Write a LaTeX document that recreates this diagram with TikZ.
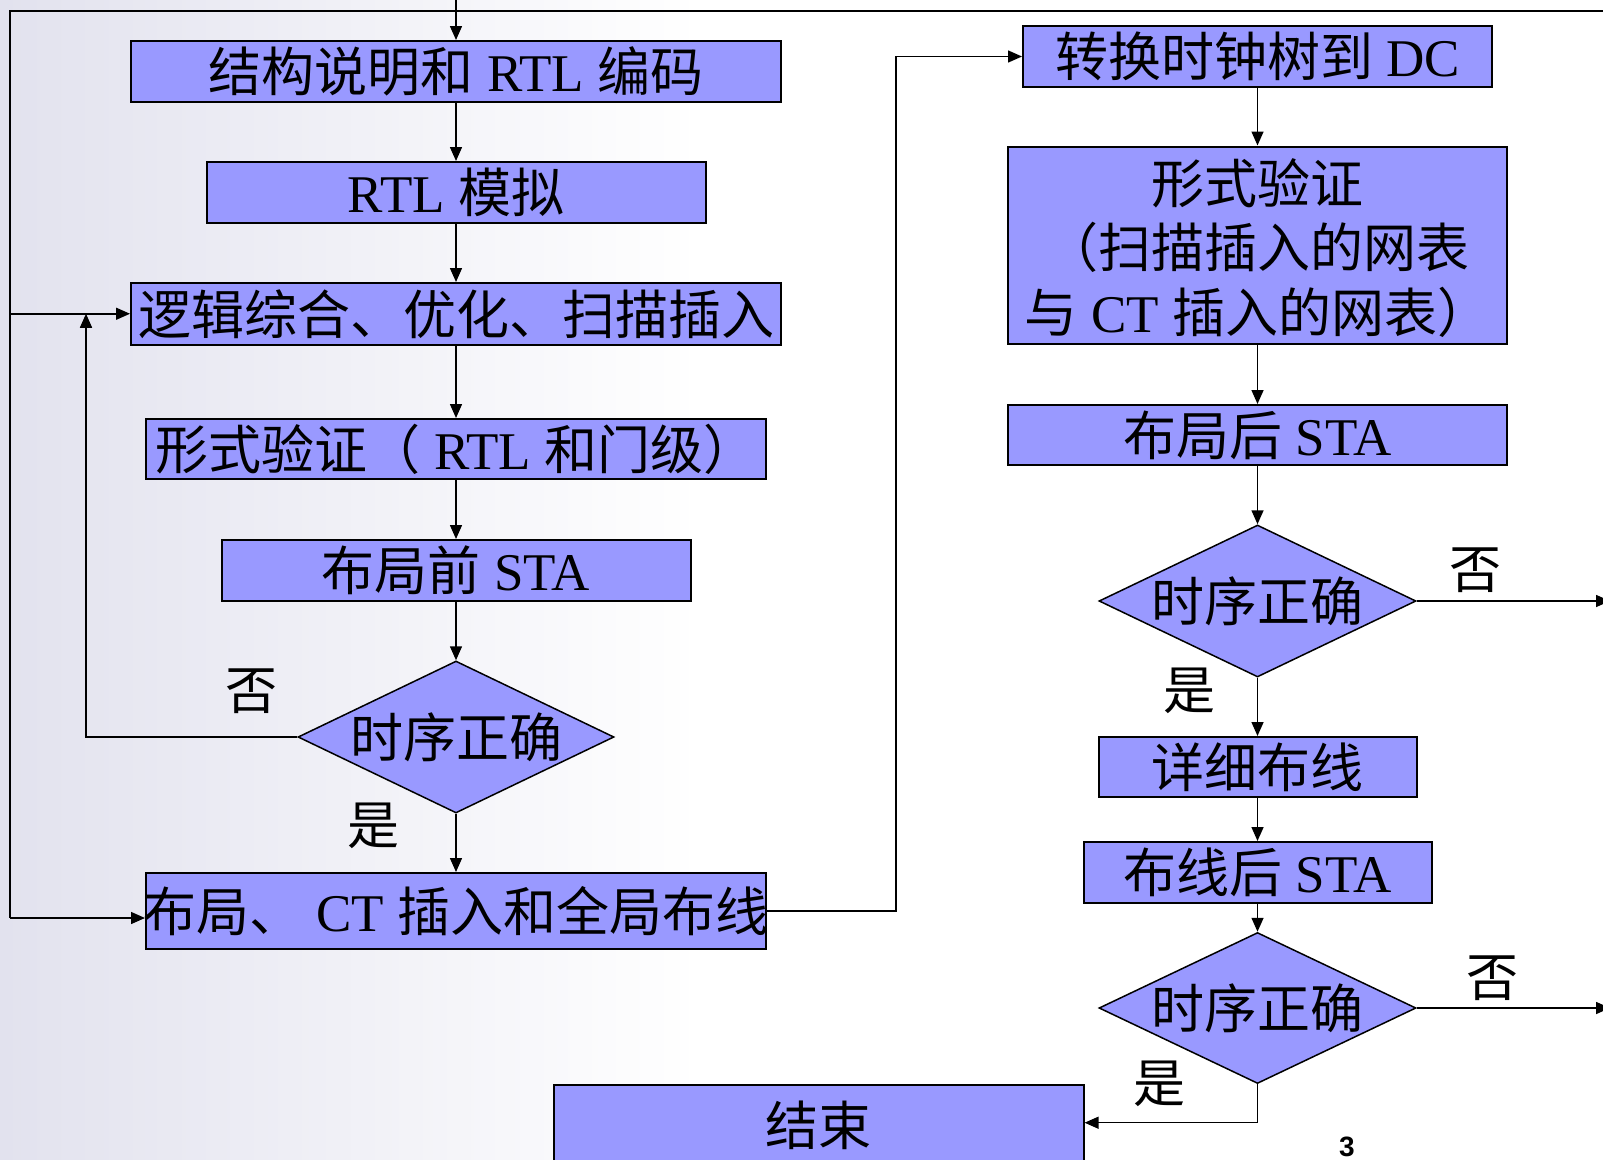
\documentclass[tikz,border=0pt]{standalone}
\usepackage{fontspec}
\setmainfont{Liberation Serif}
\newfontfamily\cjk{Noto Sans CJK SC}
\newfontfamily\pgfont{Liberation Sans}
\usetikzlibrary{arrows.meta,shapes.geometric}
\definecolor{boxfill}{RGB}{153,153,255}
\definecolor{bgleft}{RGB}{226,226,238}
\tikzset{
  stepbox/.style={draw=black, line width=2pt, fill=boxfill, rectangle, inner sep=0pt,
    font=\fontsize{53}{64}\selectfont},
  decision/.style={draw=black, line width=1.5pt, fill=boxfill, diamond, inner sep=0pt,
    font=\cjk\fontsize{53}{64}\selectfont},
  conn/.style={line width=1.5pt, draw=black},
  arr/.style={conn, -{Triangle[length=14pt,width=12pt]}},
  lbl/.style={font=\cjk\fontsize{52}{60}\selectfont, inner sep=0pt},
}
\newcommand{\zh}[1]{{\cjk #1}}
\newcommand{\nb}[1]{\makebox[0pt][c]{#1}}
\begin{document}
\begin{tikzpicture}[x=1pt,y=-1pt]
\useasboundingbox (0,0) rectangle (1603,1159);
\clip (0,0) rectangle (1603,1159);
\fill[white] (0,0) rectangle (1603,1159);
\shade[left color=bgleft, right color=white] (0,0) rectangle (700,1159);

% left column
\node[stepbox, minimum width=650pt, minimum height=61pt] (b1) at (456,71.5) {\nb{\zh{结构说明和} RTL \zh{编码}}};
\node[stepbox, minimum width=499pt, minimum height=61pt] (b2) at (456,192.5) {\nb{RTL \zh{模拟}}};
\node[stepbox, minimum width=650pt, minimum height=61.5pt] (b3) at (456,313.75) {\nb{\zh{逻辑综合、优化、扫描插入}}};
\node[stepbox, minimum width=620pt, minimum height=60pt] (b4) at (456,449) {\nb{\zh{形式验证（} RTL \zh{和门级）}}};
\node[stepbox, minimum width=469pt, minimum height=61pt] (b5) at (456,570.5) {\nb{\zh{布局前} STA}};
\node[decision, minimum width=316pt, minimum height=152pt] (d1) at (456,737) {\nb{时序正确}};
\node[stepbox, minimum width=620pt, minimum height=76pt] (b6) at (456,911) {\nb{\zh{布局、} CT \zh{插入和全局布线}}};

% right column
\node[stepbox, minimum width=469pt, minimum height=61pt] (b7) at (1257.5,56.5) {\nb{\zh{转换时钟树到} DC}};
\node[stepbox, minimum width=499pt, minimum height=197pt] (b8) at (1257.5,245) {\nb{\raisebox{-16pt}[0pt][0pt]{\begin{tabular}{@{}c@{}}\zh{形式验证}\\ \zh{（扫描插入的网表}\\ \zh{与} CT \zh{插入的网表）}\end{tabular}}}};
\node[stepbox, minimum width=499pt, minimum height=60pt] (b9) at (1257.5,435) {\nb{\zh{布局后} STA}};
\node[decision, minimum width=317pt, minimum height=152pt] (d2) at (1257.5,601) {\nb{时序正确}};
\node[stepbox, minimum width=318pt, minimum height=60pt] (b10) at (1257.5,767) {\nb{\zh{详细布线}}};
\node[stepbox, minimum width=348pt, minimum height=61pt] (b11) at (1257.5,872.5) {\nb{\zh{布线后} STA}};
\node[decision, minimum width=317pt, minimum height=151pt] (d3) at (1257.5,1008) {\nb{时序正确}};
\node[stepbox, minimum width=529.6pt, minimum height=80pt] (b12) at (818.8,1125) {\nb{\zh{结束}}};

% labels
\node[lbl] (no1) at (251,691) {否};
\node[lbl] (yes1) at (373,826) {是};
\node[lbl] (no2) at (1475,570) {否};
\node[lbl] (yes2) at (1189,691) {是};
\node[lbl] (no3) at (1492.5,978) {否};
\node[lbl] (yes3) at (1159,1084) {是};
\node[font=\pgfont\bfseries\fontsize{28}{30}\selectfont, inner sep=0pt] (pg) at (1347,1147) {3};

% coordinates
\coordinate (tin) at (456,-5);
\coordinate (tr) at (1610,11);
\coordinate (tl) at (10,11);
\coordinate (lm) at (10,313.75);
\coordinate (lb) at (10,918);
\coordinate (loopup) at (86,313.75);
\coordinate (r2) at (1610,601);
\coordinate (r3) at (1610,1008);
\coordinate (endy) at (0,1122.7);

% connectors left
\draw[arr] (tin) -- (b1.north);
\draw[conn] (tr) -- (tl) -- (lb);
\draw[arr] (lm) -- (b3.west);
\draw[arr] (lb) -- (b6.west |- lb);
\draw[arr] (b1) -- (b2);
\draw[arr] (b2) -- (b3);
\draw[arr] (b3) -- (b4);
\draw[arr] (b4) -- (b5);
\draw[arr] (b5) -- (d1);
\draw[arr] (d1) -- (b6);
\draw[arr] (d1.west) -| (loopup);
\draw[arr] (b6.east) -- ++(129,0) |- (b7.west);

% connectors right
\draw[arr] (b7) -- (b8);
\draw[arr] (b8) -- (b9);
\draw[arr] (b9) -- (d2);
\draw[arr] (d2) -- (b10);
\draw[arr] (b10) -- (b11);
\draw[arr] (b11) -- (d3);
\draw[arr] (d2.east) -- (r2);
\draw[arr] (d3.east) -- (r3);
\draw[arr] (d3.south) |- (b12.east |- endy);
\end{tikzpicture}
\end{document}
